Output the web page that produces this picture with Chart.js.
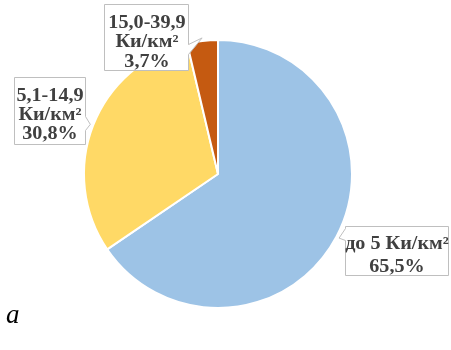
<!DOCTYPE html>
<html>
<head>
<meta charset="utf-8">
<script src="https://cdn.jsdelivr.net/npm/chart.js@4"></script>
<style>
html,body{margin:0;padding:0;background:#fff;}
#wrap{position:relative;width:451px;height:350px;}
canvas{display:block;}
</style>
</head>
<body>
<div id="wrap"><canvas id="c" width="451" height="350"></canvas></div>
<script>
// ---- data ----
const rangeLabels = ['до 5', '5,1-14,9', '15,0-39,9'];
const unitLabel = 'Ки/км²';
const shares = [65.5, 30.8, 3.7];
const sliceColors = ['#9DC3E6', '#FFD966', '#C55A11'];
const figureLetter = 'а';

// ---- callout layout (label boxes only) ----
const callouts = [
  { box: [345, 226, 104, 50], oneLine: true, cx: 397, base: [249, 272], ptr: 'left', pa: 228, pb: 240 },
  { box: [14, 77, 72, 68], oneLine: false, cx: 50, base: [101, 120, 139], ptr: 'right', pa: 116, pb: 130 },
  { box: [104, 4, 85, 67], oneLine: false, cx: 147, base: [28, 47, 67], ptr: 'right', pa: 44, pb: 54 }
];

function fmtPct(v) { return v.toFixed(1).replace('.', ',') + '%'; }

const calloutPlugin = {
  id: 'callouts',
  afterDatasetsDraw(chart) {
    const ctx = chart.ctx;
    const meta = chart.getDatasetMeta(0);
    meta.data.forEach((arc, i) => {
      const c = callouts[i];
      const p = arc.getProps(['x', 'y', 'startAngle', 'endAngle', 'outerRadius'], true);
      const mid = (p.startAngle + p.endAngle) / 2;
      const r = p.outerRadius + 3;
      const tx = p.x + Math.cos(mid) * r;
      const ty = p.y + Math.sin(mid) * r;
      const [bx, by, bw, bh] = c.box;
      ctx.save();
      ctx.beginPath();
      // box with pointer
      ctx.moveTo(bx + 0.5, by + 0.5);
      ctx.lineTo(bx + bw - 0.5, by + 0.5);
      if (c.ptr === 'right') {
        const ex = bx + bw - 0.5;
        ctx.lineTo(ex, c.pa + 0.5);
        ctx.lineTo(tx, ty);
        ctx.lineTo(ex, c.pb + 0.5);
      }
      ctx.lineTo(bx + bw - 0.5, by + bh - 0.5);
      ctx.lineTo(bx + 0.5, by + bh - 0.5);
      if (c.ptr === 'left') {
        const ex = bx + 0.5;
        ctx.lineTo(ex, c.pb + 0.5);
        ctx.lineTo(tx, ty);
        ctx.lineTo(ex, c.pa + 0.5);
      }
      ctx.closePath();
      ctx.fillStyle = '#ffffff';
      ctx.fill();
      ctx.strokeStyle = '#bfbfbf';
      ctx.lineWidth = 1;
      ctx.stroke();
      // text
      const lines = c.oneLine
        ? [rangeLabels[i] + ' ' + unitLabel, fmtPct(shares[i])]
        : [rangeLabels[i], unitLabel, fmtPct(shares[i])];
      ctx.fillStyle = '#404040';
      ctx.font = 'bold 18px "Liberation Serif", "Times New Roman", serif';
      ctx.textAlign = 'center';
      ctx.textBaseline = 'alphabetic';
      lines.forEach((t, k) => {
        ctx.save();
        ctx.translate(c.cx, c.base[k]);
        ctx.scale(1.12, 1);
        ctx.fillText(t, 0, 0);
        ctx.restore();
      });
      ctx.restore();
    });
    // figure letter
    ctx.save();
    ctx.fillStyle = '#000';
    ctx.font = 'italic 27px "Liberation Serif", "Times New Roman", serif';
    ctx.textAlign = 'left';
    ctx.textBaseline = 'alphabetic';
    ctx.fillText(figureLetter, 6, 323);
    ctx.restore();
  }
};

new Chart(document.getElementById('c'), {
  type: 'pie',
  data: {
    labels: rangeLabels.map(r => r + ' ' + unitLabel),
    datasets: [{
      data: shares,
      backgroundColor: sliceColors,
      borderColor: '#ffffff',
      borderWidth: 2
    }]
  },
  options: {
    responsive: false,
    animation: false,
    devicePixelRatio: 1,
    layout: { padding: { left: 83, top: 39, right: 98, bottom: 41 } },
    plugins: { legend: { display: false }, tooltip: { enabled: false } }
  },
  plugins: [calloutPlugin]
});
</script>
</body>
</html>
